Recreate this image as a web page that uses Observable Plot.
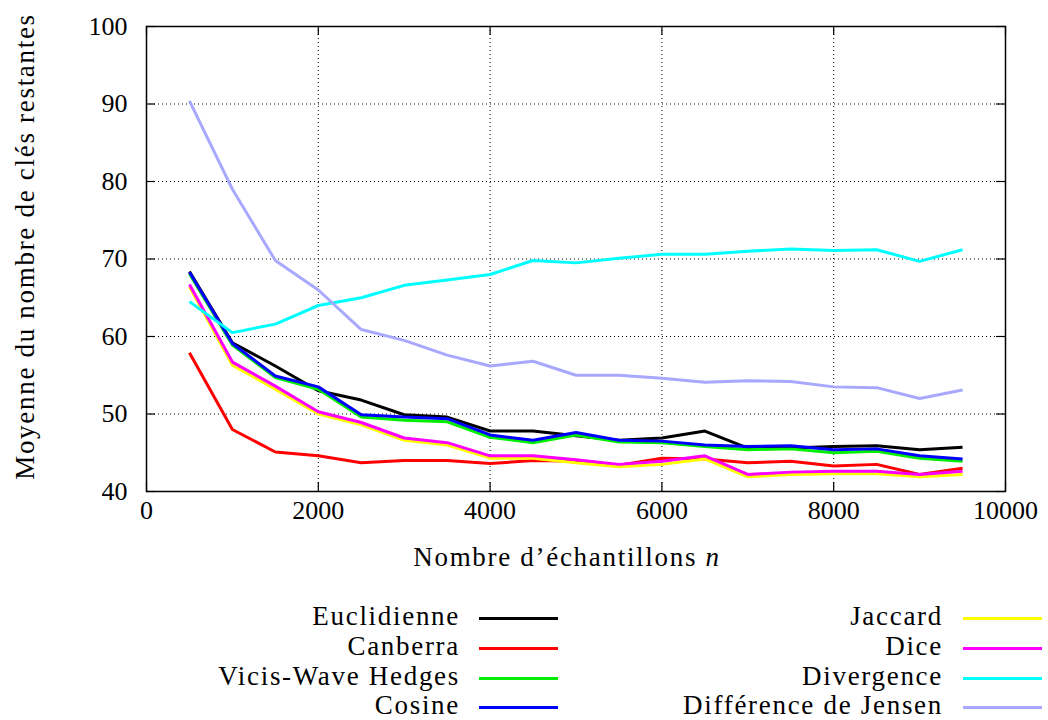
<!DOCTYPE html>
<html>
<head>
<meta charset="utf-8">
<script src="https://cdn.jsdelivr.net/npm/d3@7"></script>
<script src="https://cdn.jsdelivr.net/npm/@observablehq/plot@0.6"></script>
<style>
  html, body { margin: 0; padding: 0; background: white; }
  #wrap { position: relative; width: 1048px; height: 720px; font-family: "Liberation Serif", serif; }
  .lg { position: absolute; font-size: 27px; letter-spacing: 1.7px; line-height: 30px; color: black; white-space: nowrap; }
  .lgtext { position: absolute; text-align: right; }
  .sw { position: absolute; height: 3px; }
</style>
</head>
<body>
<div id="wrap"></div>
<script>
// ---- data ----
const samples = [500, 1000, 1500, 2000, 2500, 3000, 3500, 4000, 4500, 5000, 5500, 6000, 6500, 7000, 7500, 8000, 8500, 9000, 9500];
const euclidienne = [68.4, 59.2, 56.2, 53.0, 51.8, 49.9, 49.6, 47.8, 47.8, 47.2, 46.6, 46.9, 47.8, 45.6, 45.6, 45.8, 45.9, 45.4, 45.7];
const canberra    = [57.9, 48.0, 45.1, 44.6, 43.7, 44.0, 44.0, 43.6, 44.0, 43.9, 43.4, 44.3, 44.2, 43.7, 43.9, 43.3, 43.5, 42.2, 43.0];
const vicis       = [68.1, 58.9, 54.7, 53.2, 49.6, 49.2, 49.0, 47.0, 46.3, 47.3, 46.4, 46.3, 45.8, 45.4, 45.5, 45.0, 45.2, 44.3, 43.9];
const cosine      = [68.3, 59.1, 54.9, 53.5, 49.9, 49.6, 49.4, 47.3, 46.6, 47.6, 46.6, 46.5, 46.0, 45.8, 45.9, 45.4, 45.5, 44.6, 44.2];
const jaccard     = [66.4, 56.3, 53.2, 50.0, 48.6, 46.6, 46.0, 44.3, 44.3, 43.7, 43.2, 43.5, 44.2, 41.9, 42.2, 42.3, 42.3, 41.9, 42.2];
const dice        = [66.7, 56.7, 53.6, 50.3, 48.9, 46.9, 46.3, 44.6, 44.6, 44.1, 43.5, 43.9, 44.6, 42.2, 42.5, 42.6, 42.6, 42.2, 42.6];
const divergence  = [64.5, 60.5, 61.6, 64.0, 65.0, 66.6, 67.3, 68.0, 69.8, 69.5, 70.1, 70.6, 70.6, 71.0, 71.3, 71.1, 71.2, 69.7, 71.2];
const jensen      = [90.4, 79.0, 69.8, 66.0, 60.9, 59.5, 57.6, 56.2, 56.8, 55.0, 55.0, 54.6, 54.1, 54.3, 54.2, 53.5, 53.4, 52.0, 53.1];

const seriesNames  = ["Euclidienne", "Canberra", "Vicis-Wave Hedges", "Cosine", "Jaccard", "Dice", "Divergence", "Différence de Jensen"];
const seriesValues = [euclidienne, canberra, vicis, cosine, jaccard, dice, divergence, jensen];
const seriesColors = ["#000000", "#ff0000", "#00ee00", "#0000ff", "#ffff00", "#ff00ff", "#00ffff", "#a8a8ff"];

const xTicks = [0, 2000, 4000, 6000, 8000, 10000];
const yTicks = [40, 50, 60, 70, 80, 90, 100];
const xLabel = "Nombre d’échantillons ";
const xLabelVar = "n";
const yLabel = "Moyenne du nombre de clés restantes";

// ---- build table ----
const rows = [];
seriesNames.forEach((name, i) => {
  samples.forEach((s, j) => rows.push({series: name, n: s, value: seriesValues[i][j]}));
});

const W = 1048, H = 585;
const mL = 146, mR = 43, mT = 26, mB = 94;
const fw = W - mL - mR, fh = H - mT - mB;
const tk = 9;

const chart = Plot.plot({
  width: W, height: H,
  marginLeft: mL, marginRight: mR, marginTop: mT, marginBottom: mB,
  style: {fontFamily: "Liberation Serif, serif", fontSize: "26px", background: "white", color: "black", overflow: "visible"},
  x: {domain: [0, 10000], label: null},
  y: {domain: [40, 100], label: null},
  color: {domain: seriesNames, range: seriesColors},
  marks: [
    Plot.gridX(xTicks.slice(1, -1), {stroke: "black", strokeOpacity: 1, strokeWidth: 1, strokeDasharray: "1,3"}),
    Plot.gridY(yTicks.slice(1, -1), {stroke: "black", strokeOpacity: 1, strokeWidth: 1, strokeDasharray: "1,3"}),
    Plot.line(rows, {x: "n", y: "value", z: "series", stroke: "series", strokeWidth: 3, strokeLinejoin: "miter", strokeLinecap: "butt"}),
    Plot.tickX(xTicks, {x: d => d, insetTop: fh - tk, stroke: "black", strokeWidth: 1.2}),
    Plot.tickX(xTicks, {x: d => d, insetBottom: fh - tk, stroke: "black", strokeWidth: 1.2}),
    Plot.tickY(yTicks, {y: d => d, insetRight: fw - tk, stroke: "black", strokeWidth: 1.2}),
    Plot.tickY(yTicks, {y: d => d, insetLeft: fw - tk, stroke: "black", strokeWidth: 1.2}),
    Plot.frame({stroke: "black", strokeWidth: 1.5}),
    Plot.axisX({ticks: xTicks, tickSize: 0, tickPadding: 9, tickFormat: d => String(d), label: null}),
    Plot.axisY({ticks: yTicks, tickSize: 0, tickPadding: 19, tickFormat: d => String(d), label: null}),
    Plot.text([xLabel + xLabelVar], {frameAnchor: "bottom", lineAnchor: "middle", dy: 66, dx: -9, fontSize: 27})
  ]
});

const wrap = document.getElementById("wrap");
wrap.appendChild(chart);

// italic variable in the x label + letter spacing
d3.select(chart).selectAll("text").each(function() {
  const t = this.textContent;
  if (t === xLabel + xLabelVar) {
    const el = d3.select(this);
    el.text(null).attr("letter-spacing", "1.7px");
    el.append("tspan").text(xLabel);
    el.append("tspan").attr("font-style", "italic").text(xLabelVar);
  }
});

// rotated y-axis title, placed left of the frame
d3.select(chart).append("text")
  .attr("transform", `translate(${mL - 121},${mT + fh / 2 - 12}) rotate(-90)`)
  .attr("text-anchor", "middle")
  .attr("dy", "0.32em")
  .attr("font-size", 27)
  .attr("letter-spacing", "1.7px")
  .attr("fill", "black")
  .text(yLabel);

// ---- legend (HTML, below the SVG) ----
const rowY = [618, 648, 678, 707];
const cols = [{textRight: 460, swL: 479, swR: 558}, {textRight: 943, swL: 963, swR: 1042}];
seriesNames.forEach((name, i) => {
  const c = cols[Math.floor(i / 4)];
  const y = rowY[i % 4];
  const t = document.createElement("div");
  t.className = "lg lgtext";
  t.style.right = (1048 - c.textRight) + "px";
  t.style.top = (y - 17) + "px";
  t.textContent = name;
  wrap.appendChild(t);
  const s = document.createElement("div");
  s.className = "sw";
  s.style.left = c.swL + "px";
  s.style.width = (c.swR - c.swL) + "px";
  s.style.top = (y - 1.5) + "px";
  s.style.background = seriesColors[i];
  wrap.appendChild(s);
});
</script>
</body>
</html>
